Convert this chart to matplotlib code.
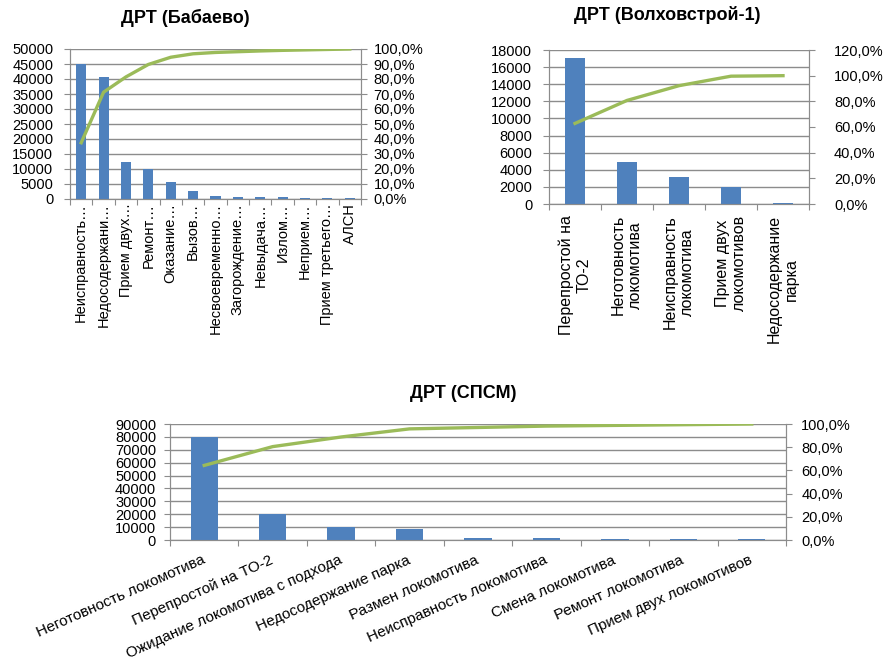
import matplotlib
matplotlib.use("Agg")
import matplotlib.pyplot as plt
import numpy as np

plt.rcParams['font.family'] = ['Liberation Sans', 'DejaVu Sans']

BAR_COLOR = "#4F81BD"
LINE_COLOR = "#9BBB59"
GRID_COLOR = "#8C8C8C"
W, H = 888, 664

# ---- ДРТ (Бабаево) ----
bab_labels = ["Неисправность…", "Недосодержани…", "Прием двух…", "Ремонт…",
              "Оказание…", "Вызов…", "Несвоевременно…", "Загорождение…",
              "Невыдача…", "Излом…", "Неприем…", "Прием третьего…", "АЛСН"]
bab_values = [45000, 40500, 12300, 9900, 5800, 2700, 1100, 600, 600, 550, 350, 350, 350]
bab_cum = [37.5, 71.2, 81.4, 89.7, 94.5, 96.8, 97.7, 98.2, 98.7, 99.1, 99.4, 99.7, 100.0]
bab_left_ticks = [0, 5000, 10000, 15000, 20000, 25000, 30000, 35000, 40000, 45000, 50000]
bab_right_ticks = [0, 10, 20, 30, 40, 50, 60, 70, 80, 90, 100]

# ---- ДРТ (Волховстрой-1) ----
vol_labels = ["Перепростой на\nТО-2", "Неготовность\nлокомотива",
              "Неисправность\nлокомотива", "Прием двух\nлокомотивов",
              "Недосодержание\nпарка"]
vol_values = [17100, 4900, 3150, 2000, 100]
vol_cum = [62.8, 80.7, 92.2, 99.6, 100.0]
vol_left_ticks = [0, 2000, 4000, 6000, 8000, 10000, 12000, 14000, 16000, 18000]
vol_right_ticks = [0, 20, 40, 60, 80, 100, 120]

# ---- ДРТ (СПСМ) ----
sps_labels = ["Неготовность локомотива", "Перепростой на ТО-2",
              "Ожидание локомотива с подхода", "Недосодержание парка",
              "Размен локомотива", "Неисправность локомотива",
              "Смена локомотива", "Ремонт локомотива", "Прием двух локомотивов"]
sps_values = [79700, 20000, 10300, 8700, 1500, 1400, 800, 800, 700]
sps_cum = [64.3, 80.5, 88.8, 95.8, 97.0, 98.2, 98.8, 99.4, 100.0]
sps_left_ticks = [0, 10000, 20000, 30000, 40000, 50000, 60000, 70000, 80000, 90000]
sps_right_ticks = [0, 20, 40, 60, 80, 100]


def pct(v):
    return f"{v:.1f}".replace(".", ",") + "%"


def px_axes(fig, x0, y0, x1, y1):
    # pixel box (top-left origin) -> figure fraction
    return fig.add_axes([x0 / W, 1 - y1 / H, (x1 - x0) / W, (y1 - y0) / H])


def pareto(fig, box, title, title_xy, labels, values, cum, lticks, rticks,
           bar_w, fs=10.5, rpad=7, lpad=7):
    ax = px_axes(fig, *box)
    n = len(values)
    x = np.arange(n)
    ax.bar(x, values, width=bar_w, color=BAR_COLOR, zorder=3)
    ax.set_xlim(-0.5, n - 0.5)
    ax.set_ylim(lticks[0], lticks[-1])
    ax.set_yticks(lticks)
    ax.set_yticklabels([str(t) for t in lticks], fontsize=fs)
    ax.yaxis.grid(True, color=GRID_COLOR, lw=1.0, zorder=0)
    ax.set_axisbelow(True)
    ax.tick_params(axis="y", length=4, color=GRID_COLOR, pad=lpad)
    # category boundaries get the tick marks, centres get the labels
    ax.set_xticks(np.arange(n + 1) - 0.5)
    ax.set_xticklabels([])
    ax.set_xticks(x, minor=True)
    ax.tick_params(axis="x", which="major", length=4, color=GRID_COLOR)
    ax.tick_params(axis="x", which="minor", length=0)
    ax.spines["top"].set_visible(False)
    for s in ["left", "bottom", "right"]:
        ax.spines[s].set_color(GRID_COLOR)

    ax2 = ax.twinx()
    ax2.plot(x, cum, color=LINE_COLOR, lw=2.4, zorder=4)
    ax2.set_ylim(rticks[0], rticks[-1])
    ax2.set_yticks(rticks)
    ax2.set_yticklabels([pct(t) for t in rticks], fontsize=fs)
    ax2.tick_params(axis="y", length=4, color=GRID_COLOR, pad=rpad)
    ax2.spines["top"].set_visible(False)
    for s in ["left", "bottom", "right"]:
        ax2.spines[s].set_color(GRID_COLOR)

    fig.text(title_xy[0] / W, 1 - title_xy[1] / H, title, fontsize=13,
             fontweight="bold", ha="center", va="center")
    return ax


fig = plt.figure(figsize=(8.88, 6.64), dpi=100)

ax1 = pareto(fig, (70, 49, 361, 199), "ДРТ (Бабаево)", (185, 18),
             bab_labels, bab_values, bab_cum, bab_left_ticks, bab_right_ticks,
             bar_w=0.45, fs=10.5, rpad=5, lpad=8)
ax1.set_xticklabels(bab_labels, minor=True, rotation=90, fontsize=10.5,
                    ha="center", va="top")
ax1.tick_params(axis="x", which="minor", pad=3)

ax2 = pareto(fig, (549, 50, 809, 204), "ДРТ (Волховстрой-1)", (667, 15),
             vol_labels, vol_values, vol_cum, vol_left_ticks, vol_right_ticks,
             bar_w=0.4, fs=10.5, rpad=14, lpad=8)
ax2.set_xticklabels(vol_labels, minor=True, rotation=90, fontsize=11.5,
                    ha="center", va="top", multialignment="center",
                    linespacing=1.2)
ax2.tick_params(axis="x", which="minor", pad=8)

ax3 = pareto(fig, (170, 424, 786, 540), "ДРТ (СПСМ)", (463, 393),
             sps_labels, sps_values, sps_cum, sps_left_ticks, sps_right_ticks,
             bar_w=0.4, fs=10.5, rpad=7, lpad=6)
ax3.set_xticklabels(sps_labels, minor=True, rotation=24, fontsize=11,
                    ha="right", va="center", rotation_mode="anchor")
ax3.tick_params(axis="x", which="minor", pad=14)

fig.savefig("out.png", dpi=100)
